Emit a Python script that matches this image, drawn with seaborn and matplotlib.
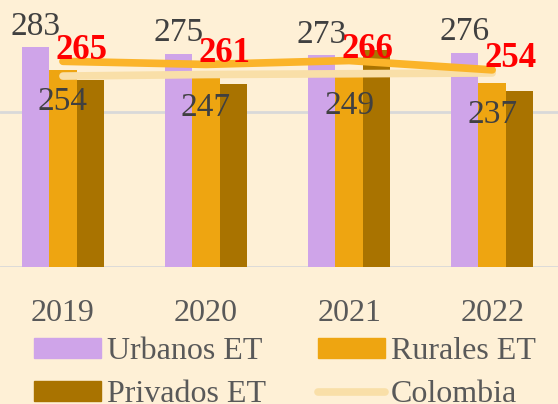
import numpy as np
import pandas as pd
import matplotlib
matplotlib.use("Agg")
import matplotlib.pyplot as plt
from matplotlib.patches import Patch
from matplotlib.lines import Line2D
import seaborn as sns

# datos
years = ["2019", "2020", "2021", "2022"]
urbanos = [283, 275, 273, 276]
rurales = [254, 247, 249, 237]
privados = [241, 236, 279, 227]
total_et = [265, 261, 266, 254]
colombia = [246, 248, 249, 250]

series = ["Urbanos ET", "Rurales ET", "Privados ET"]
colors = ["#CFA4E9", "#EEA511", "#A97300"]
c_line = "#FBB42A"
c_col = "#F9DFA8"
bg = "#FEF0D6"
txt = "#404040"

df = pd.DataFrame({
    "year": years * 3,
    "serie": [series[0]] * 4 + [series[1]] * 4 + [series[2]] * 4,
    "value": urbanos + rurales + privados,
})

sns.set_style("white")
plt.rcParams["font.family"] = ["Liberation Serif", "DejaVu Serif"]

fig = plt.figure(figsize=(5.58, 4.04), dpi=100, facecolor=bg)
ax = fig.add_axes([0, 0.339, 1, 0.661])
ax.set_facecolor(bg)

sns.barplot(data=df, x="year", y="value", hue="serie", palette=colors,
            width=0.577, saturation=1, legend=False, ax=ax, zorder=2,
            linewidth=0, edgecolor="none")

# lineas
xs = np.arange(len(years))
sns.lineplot(x=xs, y=colombia, color=c_col, lw=5.5, solid_capstyle="round",
             ax=ax, zorder=3, legend=False)
sns.lineplot(x=xs, y=total_et, color=c_line, lw=5.5, solid_capstyle="round",
             ax=ax, zorder=4, legend=False)

# etiquetas
ax.bar_label(ax.containers[0], fmt="{:.0f}", padding=4, fontsize=24, color=txt)
ax.bar_label(ax.containers[1], fmt="{:.0f}", padding=-34, fontsize=24, color=txt, zorder=5)
for i, v in enumerate(total_et):
    ax.annotate(str(v), (xs[i], v), xytext=(13, 8), textcoords="offset points",
                ha="center", va="center", fontsize=25, fontweight="bold",
                color="red", zorder=6)

ax.set_xlim(-0.44, 3.46)
ax.set_ylim(0, 344)
ax.set_yticks([0, 200])
ax.set_yticklabels([])
ax.yaxis.grid(True, color="#D9D9D9", lw=2)
ax.set_axisbelow(True)
ax.tick_params(axis="x", length=0, pad=23, labelsize=23, labelcolor="#595959")
ax.tick_params(axis="y", length=0)
ax.set_xlabel("")
ax.set_ylabel("")
sns.despine(ax=ax, left=True, bottom=True)

# leyenda (orden por columnas para que quede como en el original)
handles = [Patch(color=colors[0]), Patch(color=colors[2]),
           Patch(color=colors[1]), Line2D([], [], color=c_col, lw=5.5, solid_capstyle="round")]
labels = ["Urbanos ET", "Privados ET", "Rurales ET", "Colombia"]
fig.legend(handles, labels, ncol=2, loc="upper left",
           bbox_to_anchor=(34 / 558, 1 - 337 / 404), frameon=False,
           fontsize=23, labelcolor="#595959", handlelength=2.1, handleheight=0.6,
           handletextpad=0.2, columnspacing=1.6, labelspacing=0.45,
           borderpad=0, borderaxespad=0)

fig.savefig("out.png", dpi=100, facecolor=bg)
